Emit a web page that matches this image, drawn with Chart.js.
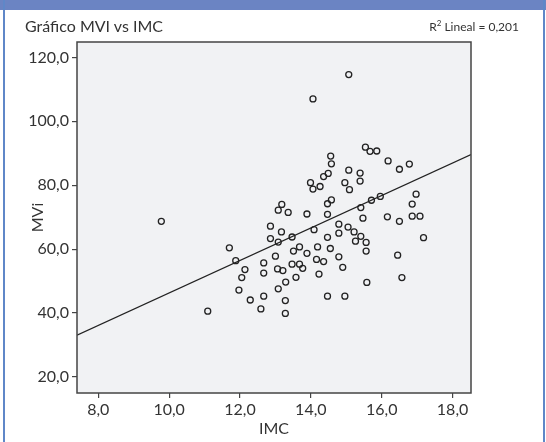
<!DOCTYPE html>
<html>
<head>
<meta charset="utf-8">
<script src="https://cdn.jsdelivr.net/npm/chart.js@4/dist/chart.umd.min.js"></script>
<style>
    body { margin: 0; background: #fff; }
    #marco { position: relative; width: 546px; height: 442px; overflow: hidden; font-family: Lato, sans-serif; color: #333; }
    #barra { position: absolute; left: 0; top: 0; width: 546px; height: 10px; background: #6b84c3; }
    .lado { position: absolute; top: 0; width: 2px; height: 442px; background: #5f87c8; }
    #titulo { position: absolute; left: 25px; top: 16px; font-size: 16px; }
    #r2 { position: absolute; right: 27px; top: 18px; font-size: 12px; }
    #r2 sup { font-size: 8px; }
    canvas { position: absolute; left: 0; top: 0; }
</style>
</head>
<body>
<div id="marco">
    <canvas id="miGrafica" width="546" height="442"></canvas>
    <div id="barra"></div>
    <div class="lado" style="left:3px"></div>
    <div class="lado" style="left:543px"></div>
    <div id="titulo">Gráfico MVI vs IMC</div>
    <div id="r2">R<sup>2</sup> Lineal = 0,201</div>
</div>
<script>
// valores
const imc = [15.07, 14.06, 9.78, 13.99, 14.06, 14.26, 13.18, 13.08, 13.36, 13.89,
    14.09, 12.86, 13.17, 13.47, 12.86, 13.08, 11.70, 13.68, 14.19, 13.51,
    13.89, 13.00, 11.88, 14.16, 12.67, 13.47, 13.68, 13.77, 13.06, 13.21,
    12.14, 12.67, 14.23, 12.05, 13.58, 13.29, 11.97, 13.08, 12.29, 12.67,
    13.28, 12.59, 13.28, 11.09, 15.54, 15.67, 15.86, 16.18, 16.50, 16.78,
    14.56, 14.58, 14.49, 14.36, 15.07, 15.39, 14.96, 15.09, 15.39, 14.58,
    14.47, 14.47, 16.97, 16.86, 15.41, 15.71, 15.96, 15.47, 16.16, 16.50,
    16.86, 17.08, 17.18, 14.79, 15.05, 14.79, 15.22, 15.41, 15.26, 15.56,
    15.56, 14.47, 14.55, 14.36, 14.79, 14.90, 16.45, 16.57, 15.58, 14.47,
    14.96];
const mvi = [114.6, 107.0, 68.7, 80.8, 78.8, 79.6, 74.0, 72.2, 71.5, 71.0,
    66.1, 67.2, 65.4, 63.8, 63.3, 62.2, 60.4, 60.7, 60.7, 59.4,
    58.7, 57.8, 56.4, 56.8, 55.7, 55.3, 55.3, 54.0, 53.8, 53.3,
    53.6, 52.5, 52.2, 51.1, 51.2, 49.7, 47.2, 47.6, 44.1, 45.3,
    43.9, 41.3, 39.9, 40.6, 91.9, 90.6, 90.7, 87.6, 85.0, 86.6,
    89.1, 86.7, 83.7, 82.7, 84.7, 83.8, 80.8, 78.6, 81.3, 75.4,
    74.2, 70.9, 77.2, 74.1, 73.0, 75.3, 76.5, 69.7, 70.1, 68.7,
    70.3, 70.3, 63.6, 67.8, 66.9, 65.0, 65.4, 64.0, 62.5, 62.1,
    59.4, 63.7, 60.2, 56.1, 57.6, 54.3, 58.1, 51.1, 49.6, 45.3,
    45.3];
const xTicks = [8, 10, 12, 14, 16, 18];
const yTicks = [20, 40, 60, 80, 100, 120];
const xLimites = [7.4, 18.52];
const yLimites = [15, 124.8];
// recta de ajuste (extremos en los bordes del grafico)
const rectaX = [7.4, 18.52];
const rectaY = [33.1, 89.6];

const coma = v => v.toFixed(1).replace('.', ',');

const fondoCaja = {
    id: 'fondoCaja',
    beforeDraw(chart) {
        const a = chart.chartArea, ctx = chart.ctx;
        ctx.save();
        ctx.fillStyle = '#f1f2f4';
        ctx.fillRect(a.left, a.top, a.right - a.left, a.bottom - a.top);
        ctx.restore();
    },
    afterDraw(chart) {
        const a = chart.chartArea, ctx = chart.ctx;
        ctx.save();
        ctx.strokeStyle = '#444';
        ctx.lineWidth = 1.5;
        ctx.strokeRect(a.left, a.top, a.right - a.left, a.bottom - a.top);
        ctx.restore();
    }
};

Chart.defaults.font.family = 'Lato, sans-serif';
Chart.defaults.color = '#333';

function renderizarGrafica() {
    const ctx = document.getElementById('miGrafica').getContext('2d');
    new Chart(ctx, {
        type: 'scatter',
        data: {
            datasets: [{
                data: imc.map((x, i) => ({ x: x, y: mvi[i] })),
                pointRadius: 3,
                pointHoverRadius: 3,
                pointBorderWidth: 1.3,
                borderColor: '#222',
                backgroundColor: 'rgba(0,0,0,0)'
            }, {
                type: 'line',
                data: rectaX.map((x, i) => ({ x: x, y: rectaY[i] })),
                showLine: true,
                pointRadius: 0,
                borderColor: '#222',
                borderWidth: 1.2
            }]
        },
        options: {
            responsive: false,
            animation: false,
            layout: { padding: { left: 0, top: 42, right: 75, bottom: 0 } },
            plugins: { legend: { display: false }, tooltip: { enabled: false } },
            scales: {
                x: {
                    type: 'linear',
                    min: xLimites[0],
                    max: xLimites[1],
                    afterBuildTicks: s => { s.ticks = xTicks.map(v => ({ value: v })); },
                    afterFit: s => { s.height = 49; },
                    grid: { drawOnChartArea: false, drawTicks: true, tickLength: 5, color: '#444', lineWidth: 1.2 },
                    border: { display: false },
                    ticks: { callback: v => coma(v), font: { size: 16 }, padding: 2, maxRotation: 0 },
                    title: { display: true, text: 'IMC', font: { size: 16, lineHeight: 1.2 }, padding: { top: 0, bottom: 4 } }
                },
                y: {
                    type: 'linear',
                    min: yLimites[0],
                    max: yLimites[1],
                    afterBuildTicks: s => { s.ticks = yTicks.map(v => ({ value: v })); },
                    afterFit: s => { s.width = 77; },
                    grid: { drawOnChartArea: false, drawTicks: true, tickLength: 5, color: '#444', lineWidth: 1.2 },
                    border: { display: false },
                    ticks: { callback: v => coma(v), font: { size: 16 }, padding: 3 },
                    title: { display: true, text: 'MVi', font: { size: 16, lineHeight: 1.2 }, padding: { top: 28, bottom: 0 } }
                }
            }
        },
        plugins: [fondoCaja]
    });
}

renderizarGrafica();
</script>
</body>
</html>
